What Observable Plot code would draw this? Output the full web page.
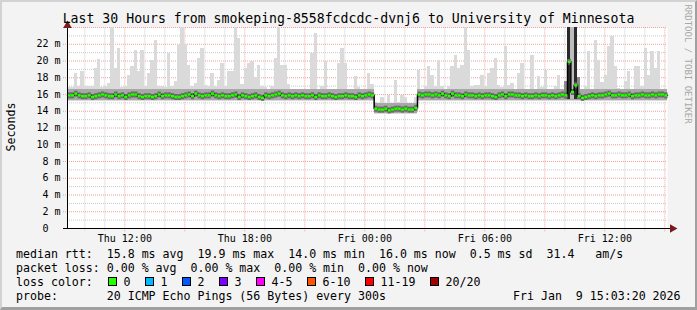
<!DOCTYPE html>
<html><head><meta charset="utf-8">
<script src="https://cdn.jsdelivr.net/npm/d3@7"></script>
<script src="https://cdn.jsdelivr.net/npm/@observablehq/plot@0.6"></script>
<style>
html,body{margin:0;padding:0;background:#f3f3f3;}
#chart{position:relative;width:697px;height:310px;background:#f3f3f3;font-family:"DejaVu Sans Mono",monospace;overflow:hidden;}
#frame{position:absolute;left:0;top:0;width:697px;height:310px;box-sizing:border-box;border-top:2px solid #d2d2d2;border-left:2px solid #d2d2d2;border-right:2px solid #a0a0a0;border-bottom:3px solid #a0a0a0;pointer-events:none;}
.t{position:absolute;white-space:pre;color:#000;}
svg text{white-space:pre;}
#plot{position:absolute;left:0;top:0;}
.box{position:absolute;width:9px;height:9px;box-sizing:border-box;border:1px solid #000;}
</style></head>
<body>
<div id="chart">
  <div id="plot"></div>
</div>
<script>
// ---- data ----
const startHour = 9 + 8/60;          // Thu 09:08, hours since Thu 00:00
const slotHours = 1/6;               // 10-minute slots
const medianRtt = [
15.9,15.9,16.1,15.9,15.8,15.8,15.9,15.7,15.8,15.9,
16.0,15.9,15.8,15.8,16.0,15.8,15.9,15.7,15.9,16.0,
16.0,15.8,15.7,15.8,15.8,15.7,15.8,16.0,15.8,15.9,
15.9,15.8,15.7,15.7,15.8,15.9,16.0,15.8,16.1,15.9,
15.8,15.9,15.9,16.1,15.9,
15.8,15.9,15.8,15.8,15.9,16.0,15.7,15.9,15.8,15.7,
15.8,15.9,15.7,15.6,15.9,15.8,15.9,16.0,16.1,15.9,
15.8,15.9,15.8,15.9,15.8,15.9,15.8,15.8,15.9,15.7,
15.9,15.8,15.8,15.9,15.8,15.7,15.8,15.8,15.9,15.8,
15.8,15.7,15.9,15.8,15.9,
16.0,15.9,14.3,14.2,14.2,14.3,14.1,14.2,14.3,14.3,
14.2,14.3,14.2,14.2,14.4,16.0,15.9,16.0,16.0,15.9,
16.0,15.9,16.1,15.9,15.8,16.1,15.9,15.9,15.8,16.0,
15.9,15.9,15.8,15.9,15.8,15.9,15.9,15.8,15.7,15.9,
16.0,15.8,16.0,16.0,15.9,
15.9,15.8,15.9,15.8,15.8,15.9,15.8,15.9,15.9,15.8,
15.9,15.8,15.9,16.0,15.9,19.9,16.3,17.1,15.8,15.6,
15.7,15.8,15.9,15.8,15.9,15.9,16.0,16.1,15.9,15.9,
16.0,15.9,15.9,16.0,15.8,15.9,15.9,16.0,15.9,15.9,
16.0,15.9,16.0,16.0,15.9];
const maxRtt = [
16.8,16.8,18.5,16.9,18.7,16.9,17.0,16.9,19.1,20.2,
16.8,16.9,17.3,25,19.1,21.5,16.8,17.0,18.3,19.3,
21.3,18.7,21.3,17.0,18.5,20.1,22.5,17.0,16.9,16.8,
20.9,17.0,17.6,21.9,25,22.0,19.5,17.0,17.3,20.3,
21.5,17.1,17.0,18.5,16.9,
17.7,19.7,17.0,18.7,18.7,25,22.7,17.2,19.1,19.7,
19.9,18.0,19.5,17.0,16.8,16.5,16.9,20.3,25,19.5,
19.5,17.2,16.6,16.5,16.5,16.4,16.5,16.4,20.9,23.3,
16.6,16.9,19.9,16.5,16.5,16.5,19.7,21.5,19.7,16.6,
16.6,18.1,16.8,16.5,16.6,
18.5,17.2,15.0,14.7,15.7,14.8,15.9,14.8,17.7,15.0,
15.9,15.7,14.9,14.8,15.7,18.9,16.6,17.0,19.3,18.3,
17.0,20.1,17.0,16.6,16.9,19.3,20.7,19.1,19.5,25,
21.3,16.9,17.1,17.1,18.3,16.9,18.5,19.1,20.3,17.1,
16.8,21.7,17.1,17.3,16.6,
18.5,19.7,16.6,16.5,20.7,16.6,18.1,16.8,18.9,16.4,
16.5,17.0,18.3,16.5,16.5,25,25,25,17.0,16.4,
16.9,21.1,16.6,22.5,20.1,17.4,18.3,21.7,22.9,19.3,
16.7,16.5,17.6,18.7,16.6,19.3,19.3,16.9,21.5,18.3,
21.1,19.1,21.1,16.5,16.5];
// dense smoke band, per period (slot ranges)
const bandFrom = [0, 92, 105];
const bandTo   = [92, 105, 180];
const bandLo   = [15.3, 13.7, 15.3];
const bandHi   = [16.6, 14.9, 16.6];
const smokeFloor = [15.2, 13.6, 15.2];
// dense spike near Fri 14:00 (slot, top, shade)
const darkSlots = [149, 150, 151, 152, 153];
const darkTop = [17.5, 25, 25, 25, 18.0];
const darkShade = ["#8a8a8a", "#2a2a2a", "#bdbdbd", "#2a2a2a", "#8a8a8a"];
// axes
const yTicks = [0,2,4,6,8,10,12,14,16,18,20,22];
const yTickLabels = ["0  ","2 m","4 m","6 m","8 m","10 m","12 m","14 m","16 m","18 m","20 m","22 m"];
const yMajorGrid = [2,4,6,8,10,12,14,16,18,20,22,24];
const yMinorGrid = [1,3,5,7,9,11,13,15,17,19,21,23];
const xTicks = [12,18,24,30,36];
const xTickLabels = ["Thu 12:00","Thu 18:00","Fri 00:00","Fri 06:00","Fri 12:00"];
const xMajorGrid = [12,15,18,21,24,27,30,33,36,39];
const xMinorGrid = [10,11,13,14,16,17,19,20,22,23,25,26,28,29,31,32,34,35,37,38];
// texts
const titleText = "Last 30 Hours from smokeping-8558fcdcdc-dvnj6 to University of Minnesota";
const legendLines = [
 "median rtt:  15.8 ms avg  19.9 ms max  14.0 ms min  16.0 ms now  0.5 ms sd  31.4   am/s",
 "packet loss: 0.00 % avg  0.00 % max  0.00 % min  0.00 % now",
 "loss color:",
 "probe:       20 ICMP Echo Pings (56 Bytes) every 300s"];
const lossLabels = ["0","1","2","3","4-5","6-10","11-19","20/20"];
const lossColors = ["#26ff00","#00b8ff","#0059ff","#7e00ff","#ff00ff","#ff5500","#ff0000","#a10000"];
const dateText = "Fri Jan  9 15:03:20 2026";

// ---- build ----
const endHour = startHour + 30;
const period = i => bandFrom.findIndex((f, j) => i >= f && i < bandTo[j]);
const slots = maxRtt.map((m, i) => ({
  x1: startHour + i*slotHours, x2: startHour + (i+1)*slotHours,
  max: m, med: medianRtt[i], floor: smokeFloor[period(i)]
}));
const bands = bandFrom.map((f, j) => ({x1: startHour + f*slotHours, x2: startHour + bandTo[j]*slotHours, lo: bandLo[j], hi: bandHi[j]}));
const dark = darkSlots.map((s, j) => ({x1: startHour + s*slotHours, x2: startHour + (s+1)*slotHours, lo: 15.4, hi: darkTop[j], c: darkShade[j]}));
const medLine = slots.map(d => ({x: d.x1, y: d.med})).concat([{x: endHour, y: medianRtt[medianRtt.length-1]}]);
const mono = "DejaVu Sans Mono";

const plot = Plot.plot({
  width: 697, height: 245,
  marginLeft: 67, marginRight: 30, marginTop: 27, marginBottom: 17,
  style: {background: "transparent", overflow: "visible"},
  x: {domain: [startHour, endHour], axis: null},
  y: {domain: [0, 24], axis: null},
  marks: [
    Plot.frame({fill: "white", stroke: "none"}),
    Plot.ruleY(yMinorGrid, {x1: startHour, x2: endHour, stroke: "#c8c8c8", strokeDasharray: "1,1"}),
    Plot.ruleX(xMinorGrid, {y1: -0.3, y2: 24, stroke: "#c8c8c8", strokeDasharray: "1,1"}),
    Plot.ruleY(yMajorGrid, {x1: startHour - 0.2, x2: endHour, stroke: "#f2a0a0", strokeDasharray: "1,1"}),
    Plot.ruleX(xMajorGrid, {y1: -0.4, y2: 24, stroke: "#f2a0a0", strokeDasharray: "1,1"}),
    Plot.rect(slots, {x1: "x1", x2: "x2", y1: "floor", y2: "max", fill: "#dadada", clip: true, shapeRendering: "crispEdges"}),
    Plot.rect(bands, {x1: "x1", x2: "x2", y1: "lo", y2: "hi", fill: "#a8a8a8", shapeRendering: "crispEdges"}),
    Plot.rect(dark, {x1: "x1", x2: "x2", y1: "lo", y2: "hi", fill: "c", clip: true, shapeRendering: "crispEdges"}),
    Plot.link(slots, {x1: "x1", x2: "x2", y1: "med", y2: "med", stroke: "#6a6a6a", strokeWidth: 6}),
    Plot.line(medLine, {x: "x", y: "y", curve: "step-after", stroke: "#000", strokeWidth: 1.5}),
    Plot.link(slots, {x1: "x1", x2: "x2", y1: "med", y2: "med", stroke: lossColors[0], strokeWidth: 2.4}),
    Plot.ruleX([startHour], {y1: 0, y2: 24, stroke: "#000"}),
    Plot.ruleY([0], {x1: startHour - 0.2, x2: endHour + 0.15, stroke: "#000"}),
    Plot.dot([{x: endHour, y: 0}], {x: "x", y: "y", symbol: "triangle", rotate: 90, r: 3.2, fill: "#7a1a1a", stroke: "none", dx: 5}),
    Plot.dot([{x: startHour, y: 24}], {x: "x", y: "y", symbol: "triangle", r: 3.2, fill: "#7a1a1a", stroke: "none", dy: -2}),
    Plot.text(yTicks, {x: startHour, y: d => d, text: (d, i) => yTickLabels[i], textAnchor: "end", dx: -7, fontFamily: mono, fontSize: 10, fill: "#000"}),
    Plot.text(xTicks, {x: d => d, y: 0, text: (d, i) => xTickLabels[i], dy: 10, fontFamily: mono, fontSize: 10, fill: "#000"})
  ]
});
document.getElementById("plot").appendChild(plot);

const chart = document.getElementById("chart");
function addText(txt, css) {
  const d = document.createElement("div");
  d.className = "t"; d.textContent = txt;
  Object.assign(d.style, css);
  chart.appendChild(d);
  return d;
}
addText(titleText, {left: "0px", width: "697px", textAlign: "center", top: "11px", fontSize: "13.2px", lineHeight: "16px"});
addText("Seconds", {left: "-29px", top: "119px", width: "80px", height: "16px", textAlign: "center", fontSize: "11.6px", lineHeight: "16px", transform: "rotate(-90deg)"});
addText("RRDTOOL / TOBI OETIKER", {left: "623px", top: "57px", width: "130px", height: "14px", textAlign: "center", fontSize: "9px", lineHeight: "14px", color: "#a8a8a8", transform: "rotate(90deg)"});
const tops = [247, 261, 275, 289];
legendLines.forEach((l, i) => addText(l, {left: "16px", top: tops[i] + "px", fontSize: "11.6px", lineHeight: "14px"}));
const boxLeft = [108, 145, 182, 219, 256, 307, 365, 430];
lossLabels.forEach((lab, i) => {
  const b = document.createElement("div");
  b.className = "box"; b.style.left = boxLeft[i] + "px"; b.style.top = "277px"; b.style.background = lossColors[i];
  chart.appendChild(b);
  addText(lab, {left: (boxLeft[i] + 15.5) + "px", top: "275px", fontSize: "11.6px", lineHeight: "14px"});
});
addText(dateText, {left: "513px", top: "289px", fontSize: "11.6px", lineHeight: "14px"});
const fr = document.createElement("div"); fr.id = "frame"; chart.appendChild(fr);
</script>
</body></html>
